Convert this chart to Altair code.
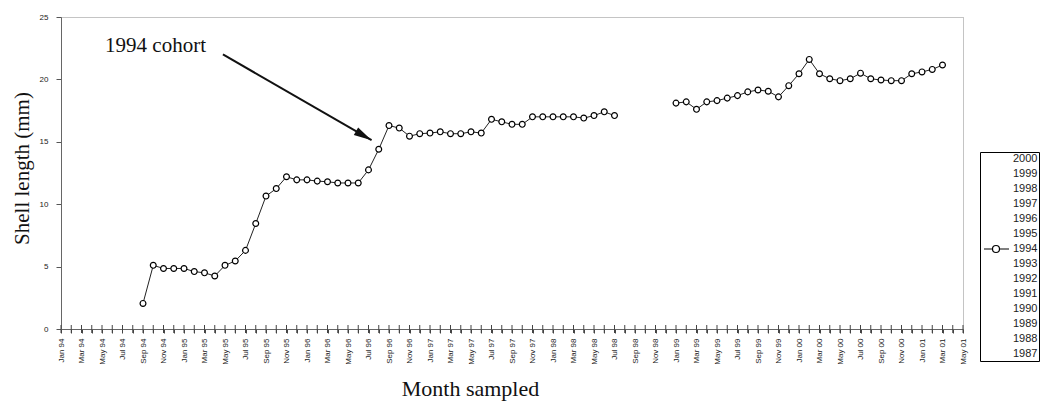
import altair as alt
import pandas as pd

# ---------------- data ----------------
MONTHS = ["Jan", "Feb", "Mar", "Apr", "May", "Jun", "Jul", "Aug", "Sep", "Oct", "Nov", "Dec"]
YEARS = ["94", "95", "96", "97", "98", "99", "00", "01"]
month_labels = [f"{m} {y}" for y in YEARS for m in MONTHS][:89]  # Jan 94 .. May 01

# 1994 cohort, first run of samples (Sep 94 .. Jul 98)
seg1_start = "Sep 94"
seg1_lengths = [2.05, 5.1, 4.85, 4.85,
                4.85, 4.6, 4.5, 4.25, 5.1, 5.45, 6.3, 8.45, 10.65, 11.25, 12.2, 11.95,
                11.95, 11.85, 11.8, 11.7, 11.7, 11.7, 12.75, 14.4, 16.3, 16.1, 15.45, 15.65,
                15.7, 15.8, 15.65, 15.65, 15.8, 15.7, 16.8, 16.6, 16.4, 16.4, 17.0, 17.0,
                17.0, 17.0, 17.0, 16.9, 17.1, 17.4, 17.1]
# second run of samples (Jan 99 .. Mar 01)
seg2_start = "Jan 99"
seg2_lengths = [18.1, 18.2, 17.6, 18.2, 18.3, 18.5, 18.7, 19.0, 19.15, 19.05, 18.6, 19.5,
                20.45, 21.6, 20.45, 20.05, 19.9, 20.05, 20.5, 20.05, 19.95, 19.9, 19.9, 20.45,
                20.6, 20.8, 21.15]

legend_years = [str(y) for y in range(2000, 1986, -1)]
shown_cohort = "1994"

annotation_text = "1994 cohort"
annotation_pos = (4.3, 22.65)      # (month index, mm)
arrow_from = (15.8, 22.0)
arrow_to = (30.3, 15.13)

# ---------------- table ----------------
rows = []
for seg, (start, vals) in enumerate([(seg1_start, seg1_lengths), (seg2_start, seg2_lengths)]):
    i0 = month_labels.index(start)
    for k, v in enumerate(vals):
        rows.append({"m": i0 + k, "len": v, "seg": seg, "cohort": shown_cohort})
df = pd.DataFrame(rows)

tick_values = list(range(len(month_labels)))
tick_labels = [lab if i % 2 == 0 else "" for i, lab in enumerate(month_labels)]
label_expr = "[" + ",".join(f"'{t}'" for t in tick_labels) + "][datum.value]"
ticks_df = pd.DataFrame({"m": tick_values, "len": [0] * len(tick_values)})

W, H = 902, 312
x_scale = alt.Scale(domain=[0, len(month_labels) - 1], nice=False, zero=False)
y_scale = alt.Scale(domain=[0, 25], nice=False)

SERIF = "Liberation Serif"
SANS = "Liberation Sans"

X_AXIS = alt.Axis(values=tick_values, labelExpr=label_expr, labelAngle=270,
                  tickSize=4, labelPadding=5, labelFlush=False, labelOverlap=False,
                  grid=False, domainColor="#666", tickColor="#444",
                  labelFont=SANS, labelFontSize=8, labelColor="#222",
                  title="Month sampled", titleFont=SERIF, titleFontSize=22,
                  titleFontWeight="normal", titleColor="#111",
                  titleX=409, titleY=59, titleAlign="center",
                  titleBaseline="middle", titleAngle=0)
Y_AXIS = alt.Axis(values=[0, 5, 10, 15, 20, 25], tickSize=5, labelPadding=8,
                  grid=False, domainColor="#666", tickColor="#555",
                  labelFont=SANS, labelFontSize=8, labelColor="#222",
                  title="Shell length (mm)", titleFont=SERIF, titleFontSize=21,
                  titleFontWeight="normal", titleColor="#111",
                  titleX=-39, titleY=151, titleAlign="center",
                  titleBaseline="middle", titleAngle=270)


def xenc(field="m"):
    return alt.X(f"{field}:Q", scale=x_scale, axis=X_AXIS, title="Month sampled")


def yenc(field="len"):
    return alt.Y(f"{field}:Q", scale=y_scale, axis=Y_AXIS, title="Shell length (mm)")


line = alt.Chart(df).mark_line(color="#222", strokeWidth=1).encode(
    x=xenc(), y=yenc(), detail="seg:N",
)

# inner half of the crossing x ticks
inner_ticks = alt.Chart(ticks_df).mark_tick(orient="vertical", size=8, thickness=1,
                                            color="#444", opacity=1).encode(
    x=xenc(), y=yenc(),
)

legend_symbol = ("M-2.4,0L-0.7,0M0.7,0L2.6,0"
                 "M0.7,0A0.7,0.7,0,1,1,-0.7,0A0.7,0.7,0,1,1,0.7,0")
colors = ["black" if y == shown_cohort else "white" for y in legend_years]

points = alt.Chart(df).mark_point(shape="circle", filled=False, fill="white", size=34,
                                  strokeWidth=1.2, opacity=1).encode(
    x=xenc(), y=yenc(),
    color=alt.Color("cohort:N", scale=alt.Scale(domain=legend_years, range=colors),
                    legend=alt.Legend(orient="none", legendX=919, legendY=135, title=None,
                                      symbolType=legend_symbol, symbolSize=100,
                                      symbolStrokeWidth=1.2, symbolOffset=9,
                                      symbolFillColor="white",
                                      labelOffset=11, labelFont=SANS, labelFontSize=11,
                                      labelColor="#222",
                                      padding=1, rowPadding=3, strokeColor="#000",
                                      fillColor="white", direction="vertical")),
)

arrow_df = pd.DataFrame({"m": [arrow_from[0]], "len": [arrow_from[1]],
                         "m2": [arrow_to[0]], "len2": [arrow_to[1]]})
shaft = alt.Chart(arrow_df).mark_rule(color="#111", strokeWidth=2).encode(
    x=xenc(), y=yenc(), x2="m2:Q", y2="len2:Q",
)
head = alt.Chart(arrow_df).mark_point(shape="M0,0L0.24,1L-0.24,1Z", filled=True,
                                      color="#111", size=1296, angle=120, opacity=1).encode(
    x=xenc("m2"), y=yenc("len2"),
)
label_df = pd.DataFrame({"m": [annotation_pos[0]], "len": [annotation_pos[1]],
                         "t": [annotation_text]})
label = alt.Chart(label_df).mark_text(align="left", baseline="middle", font=SERIF,
                                      fontSize=21, color="#111").encode(
    x=xenc(), y=yenc(), text="t:N",
)

chart = alt.layer(line, inner_ticks, points, shaft, head, label).properties(
    width=W, height=H,
    padding={"left": 61, "top": 17, "right": 77, "bottom": 74},
    autosize=alt.AutoSizeParams(type="none"),
    background="white",
).configure_view(stroke="#888", strokeDash=[1, 1])

chart.save("out.html", embed_options={"renderer": "svg", "actions": False})
